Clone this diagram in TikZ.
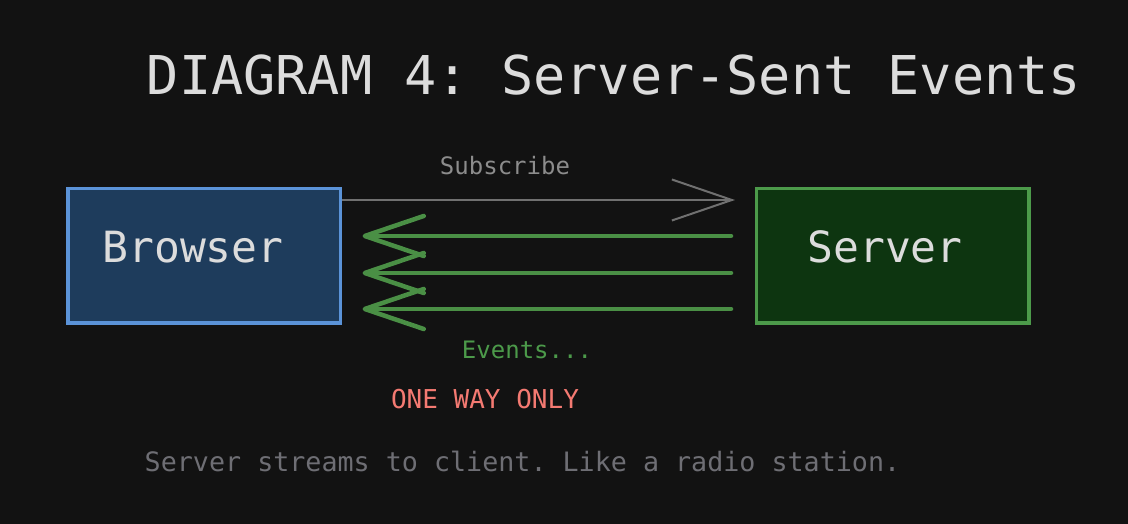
\documentclass[tikz,border=0pt]{standalone}
\usepackage{fontspec}
\setmonofont{DejaVu Sans Mono}
\usetikzlibrary{arrows.meta}

\definecolor{bgdark}{HTML}{121212}
\definecolor{titlegray}{HTML}{DCDCDC}
\definecolor{browserfill}{HTML}{1E3C5C}
\definecolor{browserline}{HTML}{5B93D8}
\definecolor{serverfill}{HTML}{0D3510}
\definecolor{serverline}{HTML}{4C9A4A}
\definecolor{eventgreen}{HTML}{4A8F45}
\definecolor{subgray}{HTML}{707070}
\definecolor{sublabel}{HTML}{8C8C8C}
\definecolor{warnred}{HTML}{F47A72}
\definecolor{notegray}{HTML}{6E6E74}

\tikzset{
  box/.style={rectangle, line width=3.5pt, minimum width=272.5pt, minimum height=134.5pt, inner sep=0pt},
  boxtext/.style={font=\ttfamily\fontsize{43}{50}\selectfont, text=titlegray, inner sep=0pt},
  smalltext/.style={font=\ttfamily\fontsize{24}{28}\selectfont, inner sep=0pt},
  subscribe/.style={draw=subgray, line width=2pt, -{Straight Barb[length=60pt, width=41pt]}},
  event/.style={draw=eventgreen, line width=4.5pt, line cap=round, -{Straight Barb[length=59pt, width=40pt, round]}}
}

\begin{document}
\begin{tikzpicture}[x=1pt, y=1pt]

\fill[bgdark] (0,0) rectangle (1128,524);
\useasboundingbox (0,0) rectangle (1128,524);

\node[font=\ttfamily\fontsize{53.5}{60}\selectfont, text=titlegray, inner sep=0pt] (title) at (614,449) {DIAGRAM 4: Server-Sent Events};

\node[box, draw=browserline, fill=browserfill] (browser) at (204,268) {};
\node[box, draw=serverline, fill=serverfill] (server) at (892.5,268) {};
\node[boxtext] (browsertext) at (193,277) {Browser};
\node[boxtext] (servertext) at (885,277) {Server};

\draw[subscribe] ([yshift=56]browser.east) -- ([xshift=-19.5,yshift=56]server.west);
\node[smalltext, text=sublabel] (sublabel) at (505,358) {Subscribe};

\draw[event] ([xshift=-23.5,yshift=20]server.west) -- ([xshift=20.5,yshift=20]browser.east);
\draw[event] ([xshift=-23.5,yshift=-17]server.west) -- ([xshift=20.5,yshift=-17]browser.east);
\draw[event] ([xshift=-23.5,yshift=-53]server.west) -- ([xshift=20.5,yshift=-53]browser.east);

\node[smalltext, text=serverline] (events) at (527,174) {Events...};
\node[font=\ttfamily\fontsize{26}{30}\selectfont, text=warnred, inner sep=0pt] (oneway) at (485,125) {ONE WAY ONLY};
\node[font=\ttfamily\fontsize{26.7}{30}\selectfont, text=notegray, inner sep=0pt] (note) at (522.5,63) {Server streams to client. Like a radio station.};

\end{tikzpicture}
\end{document}
